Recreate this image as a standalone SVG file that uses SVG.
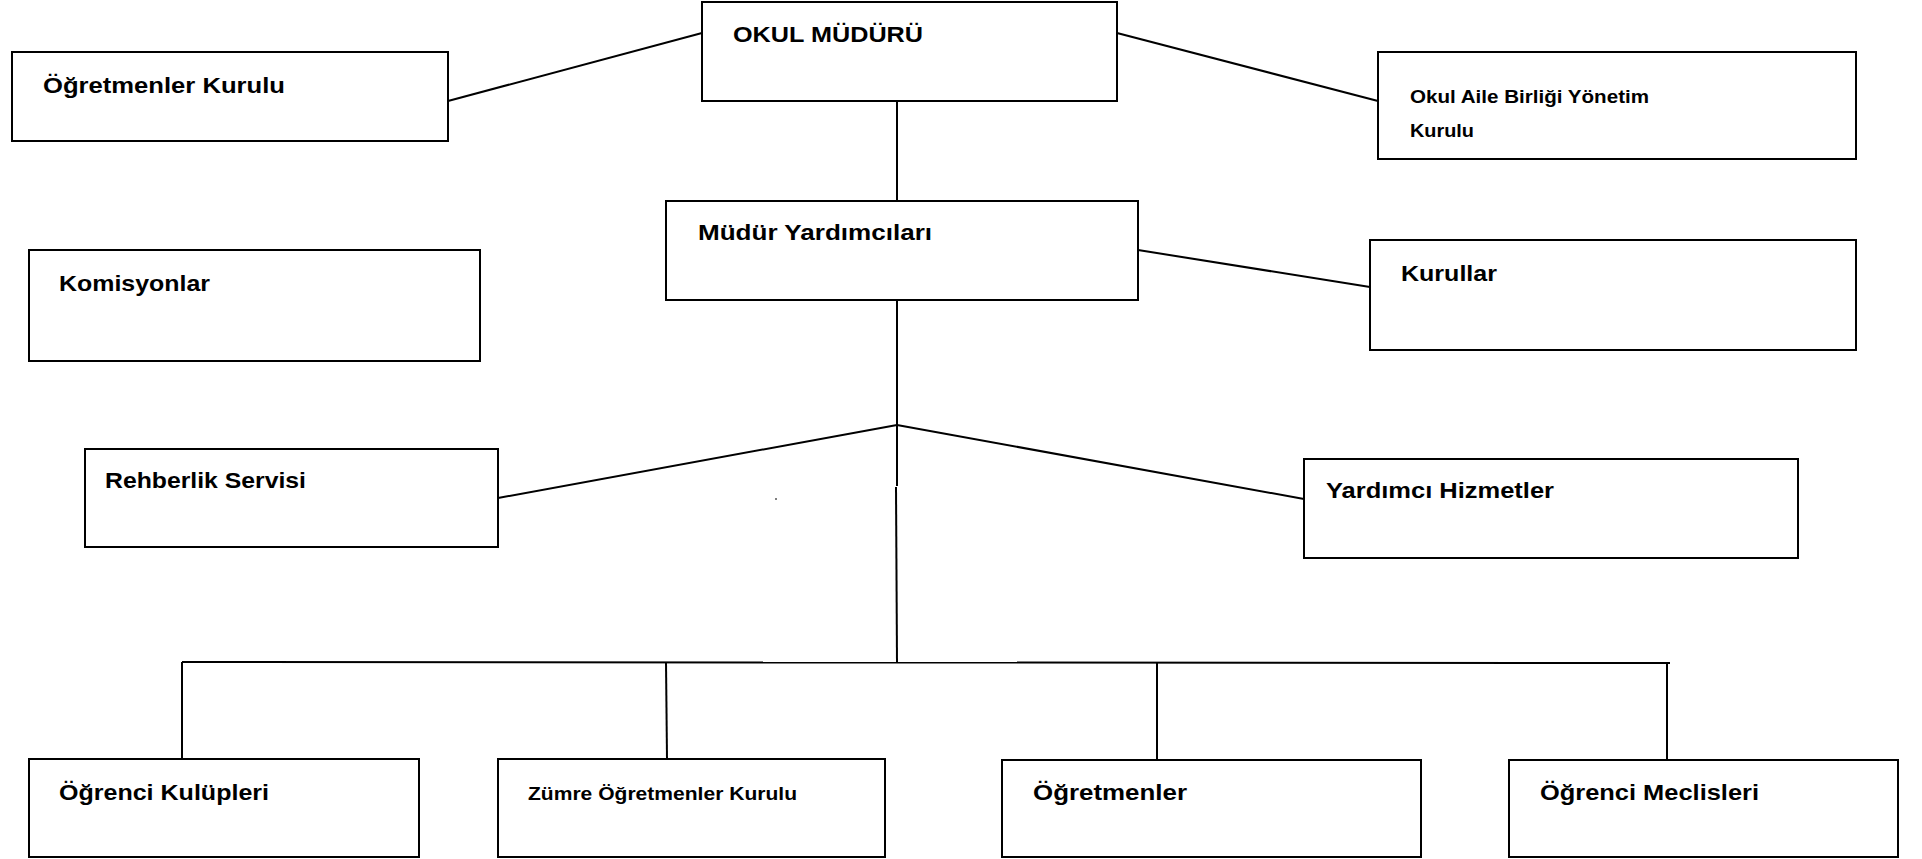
<svg xmlns="http://www.w3.org/2000/svg" width="1922" height="859" viewBox="0 0 1922 859">
<style>
.box{fill:#fff;stroke:#000;stroke-width:2}
.t{font-family:"Liberation Sans",Arial,sans-serif;font-weight:bold;font-size:22px;fill:#000}
.s{font-size:19px}
.z{font-size:18px}
.c{stroke:#000;stroke-width:2;fill:none}
</style>
<rect width="1922" height="859" fill="#fff"/>
<g id="connectors">
<line class="c" x1="448" y1="101" x2="702" y2="33"/>
<line class="c" x1="1117" y1="33" x2="1378" y2="101"/>
<line class="c" x1="897" y1="101" x2="897" y2="201"/>
<line class="c" x1="1138" y1="250" x2="1370" y2="287"/>
<line class="c" x1="897" y1="288" x2="897" y2="486"/>
<line class="c" x1="896" y1="487" x2="897" y2="662"/>
<line class="c" x1="897" y1="425" x2="498" y2="498"/>
<line class="c" x1="897" y1="425" x2="1304" y2="499"/>
<line class="c" x1="182" y1="662" x2="1670" y2="663"/>
<line class="c" x1="182" y1="662" x2="182" y2="759"/>
<line class="c" x1="666" y1="662" x2="667" y2="759"/>
<line class="c" x1="1157" y1="662" x2="1157" y2="760"/>
<line class="c" x1="1667" y1="662" x2="1667" y2="760"/>
<line x1="776" y1="498" x2="776" y2="500" stroke="#000" stroke-width="1"/>
</g>
<g id="okul-muduru">
<rect class="box" x="702" y="2" width="415" height="99"/>
<text class="t" x="733" y="42" textLength="190" lengthAdjust="spacingAndGlyphs">OKUL MÜDÜRÜ</text>
</g>
<g id="ogretmenler-kurulu">
<rect class="box" x="12" y="52" width="436" height="89"/>
<text class="t" x="43" y="93" textLength="242" lengthAdjust="spacingAndGlyphs">Öğretmenler Kurulu</text>
</g>
<g id="okul-aile-birligi">
<rect class="box" x="1378" y="52" width="478" height="107"/>
<text class="t s" x="1410" y="103" textLength="239" lengthAdjust="spacingAndGlyphs">Okul Aile Birliği Yönetim</text>
<text class="t s" x="1410" y="137" textLength="64" lengthAdjust="spacingAndGlyphs">Kurulu</text>
</g>
<g id="mudur-yardimcilari">
<rect class="box" x="666" y="201" width="472" height="99"/>
<text class="t" x="698" y="240" textLength="234" lengthAdjust="spacingAndGlyphs">Müdür Yardımcıları</text>
</g>
<g id="komisyonlar">
<rect class="box" x="29" y="250" width="451" height="111"/>
<text class="t" x="59" y="291" textLength="151" lengthAdjust="spacingAndGlyphs">Komisyonlar</text>
</g>
<g id="kurullar">
<rect class="box" x="1370" y="240" width="486" height="110"/>
<text class="t" x="1401" y="281" textLength="96" lengthAdjust="spacingAndGlyphs">Kurullar</text>
</g>
<g id="rehberlik-servisi">
<rect class="box" x="85" y="449" width="413" height="98"/>
<text class="t" x="105" y="488" textLength="201" lengthAdjust="spacingAndGlyphs">Rehberlik Servisi</text>
</g>
<g id="yardimci-hizmetler">
<rect class="box" x="1304" y="459" width="494" height="99"/>
<text class="t" x="1326" y="498" textLength="228" lengthAdjust="spacingAndGlyphs">Yardımcı Hizmetler</text>
</g>
<g id="ogrenci-kulupleri">
<rect class="box" x="29" y="759" width="390" height="98"/>
<text class="t" x="59" y="800" textLength="210" lengthAdjust="spacingAndGlyphs">Öğrenci Kulüpleri</text>
</g>
<g id="zumre-ogretmenler-kurulu">
<rect class="box" x="498" y="759" width="387" height="98"/>
<text class="t z" x="528" y="800" textLength="269" lengthAdjust="spacingAndGlyphs">Zümre Öğretmenler Kurulu</text>
</g>
<g id="ogretmenler">
<rect class="box" x="1002" y="760" width="419" height="97"/>
<text class="t" x="1033" y="800" textLength="154" lengthAdjust="spacingAndGlyphs">Öğretmenler</text>
</g>
<g id="ogrenci-meclisleri">
<rect class="box" x="1509" y="760" width="389" height="97"/>
<text class="t" x="1540" y="800" textLength="219" lengthAdjust="spacingAndGlyphs">Öğrenci Meclisleri</text>
</g>
</svg>
